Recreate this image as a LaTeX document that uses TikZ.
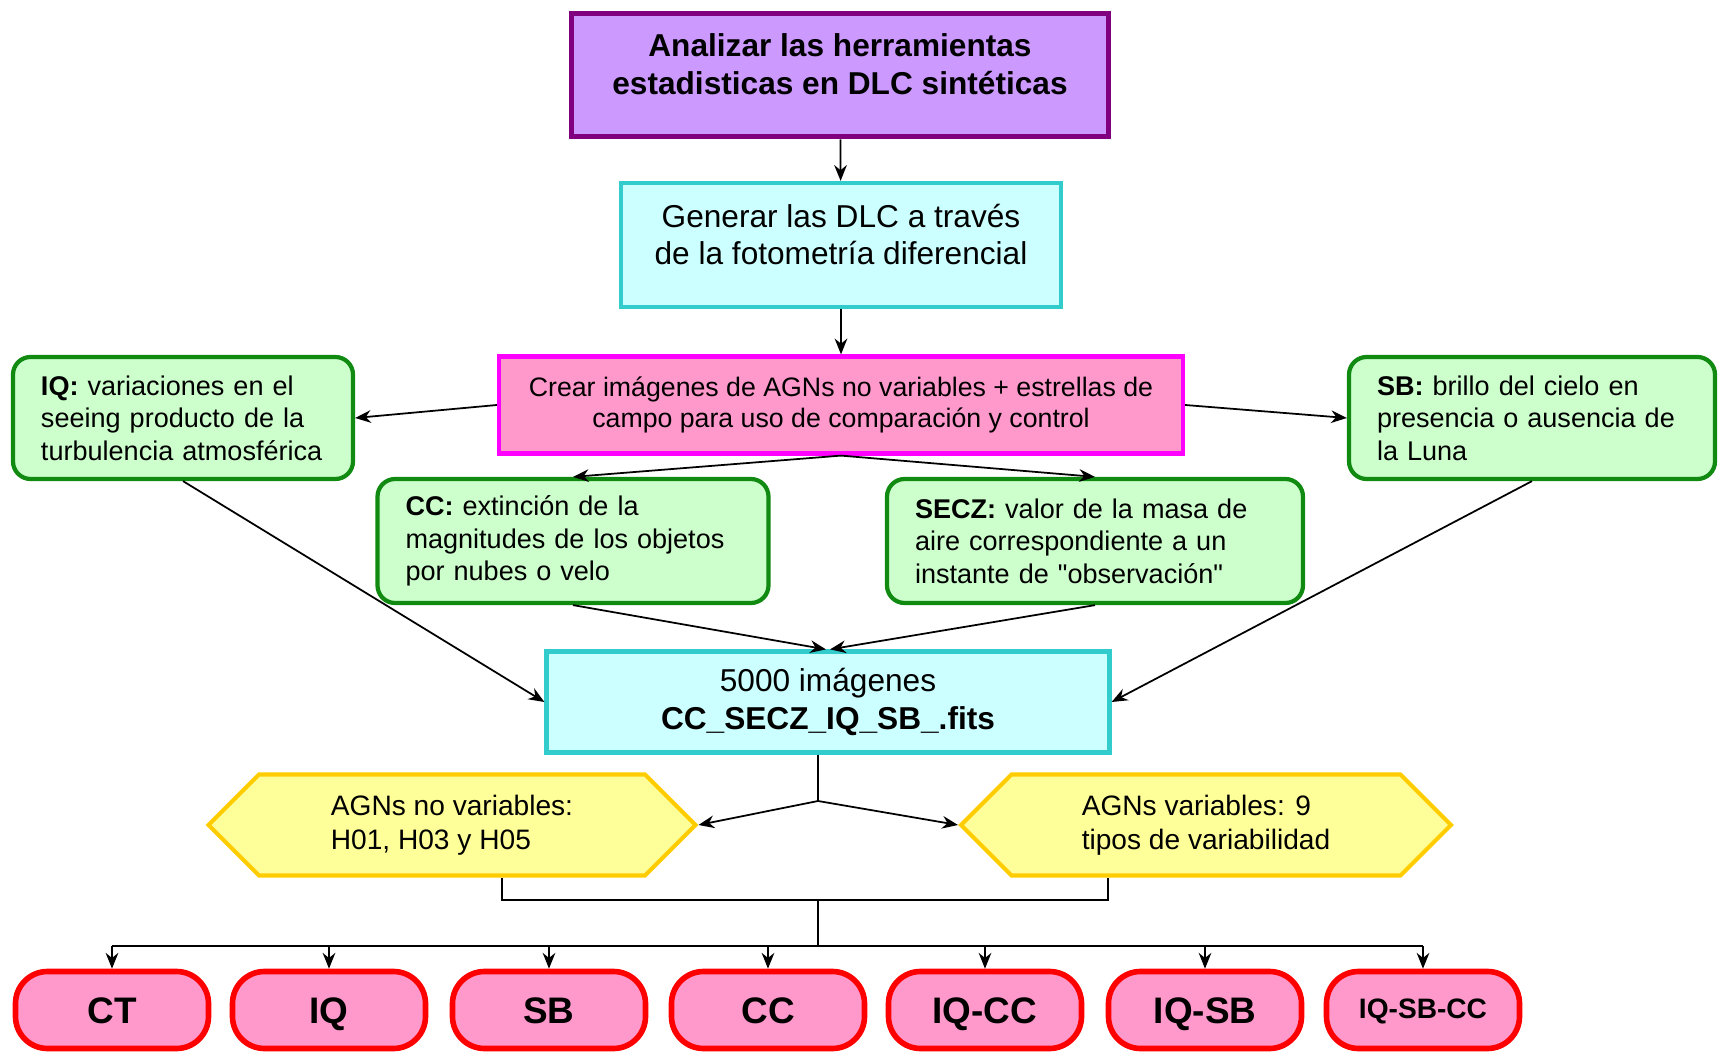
\documentclass[tikz,border=0pt]{standalone}
\usepackage{fontspec}
\setmainfont{Liberation Sans}
\usepackage{xcolor}
\usetikzlibrary{arrows.meta, shapes.symbols}

\definecolor{goalfill}{HTML}{CC99FF}
\definecolor{goaldraw}{HTML}{800080}
\definecolor{cyanfill}{HTML}{CCFFFF}
\definecolor{cyandraw}{HTML}{33CCCC}
\definecolor{pinkfill}{HTML}{FF99CC}
\definecolor{pinkdraw}{HTML}{FF00FF}
\definecolor{greenfill}{HTML}{CCFFCC}
\definecolor{greendraw}{HTML}{108A10}
\definecolor{hexfill}{HTML}{FFFF99}
\definecolor{hexdraw}{HTML}{FFCC00}
\definecolor{termfill}{HTML}{FF99CC}
\definecolor{termdraw}{HTML}{FF0000}

\begin{document}
\begin{tikzpicture}[
    box/.style     = {rectangle, draw, line width=1.2pt, inner sep=0pt, align=center},
    goalbox/.style = {box, fill=goalfill, draw=goaldraw, line width=1.6pt,
                      font=\fontsize{9}{10.6}\selectfont\bfseries},
    cyanbox/.style = {box, fill=cyanfill, draw=cyandraw,
                      font=\fontsize{9}{10.6}\selectfont},
    pinkbox/.style = {box, fill=pinkfill, draw=pinkdraw,
                      font=\fontsize{7.6}{9}\selectfont},
    gbox/.style    = {box, fill=greenfill, draw=greendraw, rounded corners=5pt,
                      align=left, inner xsep=0.28cm, minimum height=1.22cm,
                      font=\fontsize{7.7}{9.2}\selectfont},
    hexbox/.style  = {shape=signal, signal to=west and east, signal from=nowhere,
                      signal pointer angle=90, draw=hexdraw, fill=hexfill,
                      line width=1.2pt, inner sep=0pt, align=left,
                      minimum width=4.87cm, minimum height=1.01cm,
                      font=\fontsize{8}{9.6}\selectfont},
    termbox/.style = {rectangle, rounded corners=0.32cm, draw=termdraw, fill=termfill,
                      line width=1.6pt, minimum width=1.93cm, minimum height=0.77cm,
                      text height=1.6ex, text depth=0.1ex,
                      font=\fontsize{10.5}{12}\selectfont\bfseries},
    arr/.style     = {-{Stealth[length=4.5pt,width=3.6pt]}, line width=0.5pt}
]
\useasboundingbox (0,0) rectangle (17.20,-10.57);

%% ---- top of the chain ----
\node[goalbox, minimum width=5.37cm, minimum height=1.23cm, text depth=0.22cm] (analizar) at (8.40,-0.75)
    {Analizar las herramientas\\estadisticas en DLC sintéticas};
\node[cyanbox, minimum width=4.40cm, minimum height=1.24cm, text depth=0.22cm] (generar) at (8.41,-2.45)
    {Generar las DLC a través\\de la fotometría diferencial};
\node[pinkbox, minimum width=6.84cm, minimum height=0.97cm] (crear) at (8.41,-4.05)
    {Crear imágenes de AGNs no variables + estrellas de\\campo para uso de comparación y control};

%% ---- observing conditions ----
\node[gbox, minimum width=3.40cm, text width=2.84cm] (iq) at (1.83,-4.18)
    {\textbf{IQ:} variaciones en el\\seeing producto de la\\turbulencia atmosférica};
\node[gbox, minimum width=3.66cm, text width=3.10cm] (sb) at (15.32,-4.18)
    {\textbf{SB:} brillo del cielo en\\presencia o ausencia de\\la Luna};
\node[gbox, minimum width=3.91cm, text width=3.35cm, minimum height=1.24cm] (cc) at (5.73,-5.41)
    {\textbf{CC:} extinción de la\\magnitudes de los objetos\\por nubes o velo};
\node[gbox, minimum width=4.16cm, text width=3.60cm, minimum height=1.24cm] (secz) at (10.95,-5.41)
    {\textbf{SECZ:} valor de la masa de\\aire correspondiente a un\\instante de \textquotedbl observación\textquotedbl};

%% ---- images and AGN sets ----
\node[cyanbox, minimum width=5.63cm, minimum height=1.01cm] (imgs) at (8.28,-7.02)
    {5000 imágenes\\\textbf{CC\_SECZ\_IQ\_SB\_.fits}};
\node[hexbox] (agnno) at (4.52,-8.25) {AGNs no variables:\\H01, H03 y H05};
\node[hexbox, minimum width=4.90cm] (agnvar) at (12.06,-8.25) {AGNs variables: 9\\tipos de variabilidad};

%% ---- terminals ----
\node[termbox] (tct)     at (1.12,-10.10) {CT};
\node[termbox] (tiq)     at (3.29,-10.10) {IQ};
\node[termbox] (tsb)     at (5.49,-10.10) {SB};
\node[termbox] (tcc)     at (7.68,-10.10) {CC};
\node[termbox] (tiqcc)   at (9.85,-10.10) {IQ-CC};
\node[termbox] (tiqsb)   at (12.05,-10.10) {IQ-SB};
\node[termbox, text depth=0.7ex, font=\fontsize{8}{10}\selectfont\bfseries] (tiqsbcc) at (14.23,-10.10) {IQ-SB-CC};

\coordinate (split) at (8.18,-8.01);
\coordinate (join)  at (8.18,-9.00);
\coordinate (bus)   at (8.18,-9.46);

%% =============================================
%% ARROWS
%% =============================================
\draw[arr] (analizar) -- (generar);
\draw[arr] (generar) -- (crear);
\draw[arr] (crear.west) -- (iq.east);
\draw[arr] (crear.east) -- (sb.west);
\draw[arr] (crear.south) -- (cc.north);
\draw[arr] (crear.south) -- (secz.north);

\draw[arr] (iq.south) -- (imgs.west);
\draw[arr] (sb.south) -- (imgs.east);
\draw[arr] (cc.south) -- ([xshift=-0.02cm]imgs.north);
\draw[arr] (secz.south) -- ([xshift=0.02cm]imgs.north);

%% split to the two AGN sets
\draw (imgs.south -| split) -- (split);
\draw[arr] (split) -- (agnno.east);
\draw[arr] (split) -- (agnvar.west);

%% both sets feed every combination
\draw ([xshift=0.5cm]agnno.south) |- (join) -| ([xshift=-0.98cm]agnvar.south);
\draw (join) -- (bus);
\draw (bus -| tct.north) -- (bus -| tiqsbcc.north);
\foreach \t in {tct, tiq, tsb, tcc, tiqcc, tiqsb, tiqsbcc}
    \draw[arr] (bus -| \t.north) -- (\t.north);

\end{tikzpicture}
\end{document}
